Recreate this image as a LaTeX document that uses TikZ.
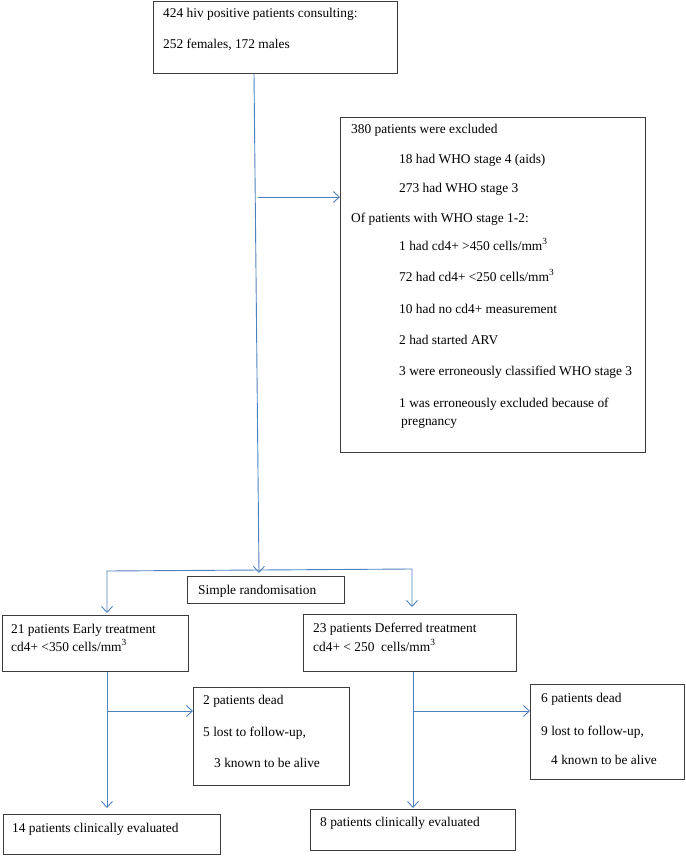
\documentclass[tikz,border=0pt]{standalone}
\usepackage{fontspec}
\setmainfont{Liberation Serif}
\usetikzlibrary{arrows.meta}
\definecolor{flowblue}{RGB}{79,129,189}
\definecolor{boxgray}{RGB}{60,60,60}
\begin{document}
\begin{tikzpicture}[x=1pt,y=-1pt,
	box/.style={draw=boxgray,line width=1.1pt,anchor=north west},
	txt/.style={anchor=base west,font=\fontsize{13.4}{16}\selectfont},
	flow/.style={draw=flowblue,line width=0.9pt,-{Straight Barb[length=6pt,width=11pt]}}]
	\tikzstyle{every node}+=[inner sep=0pt]
	\useasboundingbox (0,0) rectangle (685,856);
	% boxes
	\node[box,minimum width=244pt,minimum height=72pt] (top) at (153,0.7) {};
	\node[box,minimum width=305pt,minimum height=335pt] (excl) at (340,117) {};
	\node[box,minimum width=157pt,minimum height=27pt] (rand) at (187,576) {};
	\node[box,minimum width=186pt,minimum height=56pt] (early) at (2,615) {};
	\node[box,minimum width=213pt,minimum height=57pt] (defer) at (303,614) {};
	\node[box,minimum width=156pt,minimum height=98pt] (deadA) at (193,687) {};
	\node[box,minimum width=154pt,minimum height=95pt] (deadB) at (530,684) {};
	\node[box,minimum width=217pt,minimum height=40pt] (evalA) at (3,814) {};
	\node[box,minimum width=205pt,minimum height=41pt] (evalB) at (310,809) {};
	% texts
	\node[txt] (t1) at (163,18) {424 hiv positive patients consulting:};
	\node[txt] (t2) at (163,49) {252 females, 172 males};
	\node[txt] (x1) at (351,134) {380 patients were excluded};
	\node[txt] (x2) at (399,163) {18 had WHO stage 4 (aids)};
	\node[txt] (x3) at (399,192) {273 had WHO stage 3};
	\node[txt] (x4) at (351,222) {Of patients with WHO stage 1-2:};
	\node[txt] (x5) at (399,250) {1 had cd4+ >450 cells/mm\textsuperscript{3}};
	\node[txt] (x6) at (399,281) {72 had cd4+ <250 cells/mm\textsuperscript{3}};
	\node[txt] (x7) at (399,313) {10 had no cd4+ measurement};
	\node[txt] (x8) at (399,344) {2 had started ARV};
	\node[txt] (x9) at (399,375) {3 were erroneously classified WHO stage 3};
	\node[txt] (x10) at (399,407) {1 was erroneously excluded because of};
	\node[txt] (x11) at (401,425) {pregnancy};
	\node[txt] (r1) at (198,594) {Simple randomisation};
	\node[txt] (e1) at (11,633) {21 patients Early treatment};
	\node[txt] (e2) at (11,651) {cd4+ <350 cells/mm\textsuperscript{3}};
	\node[txt] (d1) at (313,632) {23 patients Deferred treatment};
	\node[txt] (d2) at (313,651) {cd4+ < 250~ cells/mm\textsuperscript{3}};
	\node[txt] (a1) at (203,704) {2 patients dead};
	\node[txt] (a2) at (203,736) {5 lost to follow-up,};
	\node[txt] (a3) at (214,767) {3 known to be alive};
	\node[txt] (b1) at (541,702) {6 patients dead};
	\node[txt] (b2) at (541,735) {9 lost to follow-up,};
	\node[txt] (b3) at (551,764) {4 known to be alive};
	\node[txt] (v1) at (12,832) {14 patients clinically evaluated};
	\node[txt] (v2) at (320,826) {8 patients clinically evaluated};
	% connectors
	\coordinate (m0) at (254,73.5);
	\coordinate (m1) at (259,573);
	\coordinate (sx) at (258,197);
	\coordinate (sl) at (107,571);
	\coordinate (sr) at (412,569);
	\coordinate (el) at (107,711);
	\coordinate (dl) at (413,711);
	\draw[flow] (m0) -- (m1);
	\draw[flow] (sx) -- (sx -| excl.west);
	\draw[flow,{Straight Barb[length=6pt,width=11pt]}-{Straight Barb[length=6pt,width=11pt]}] (107,613) -- (sl) -- (sr) -- (412,607);
	\draw[flow] (early.south -| el) -- (107,808);
	\draw[flow] (el) -- (el -| deadA.west);
	\draw[flow] (defer.south -| dl) -- (413,808);
	\draw[flow] (dl) -- (dl -| deadB.west);
\end{tikzpicture}
\end{document}
